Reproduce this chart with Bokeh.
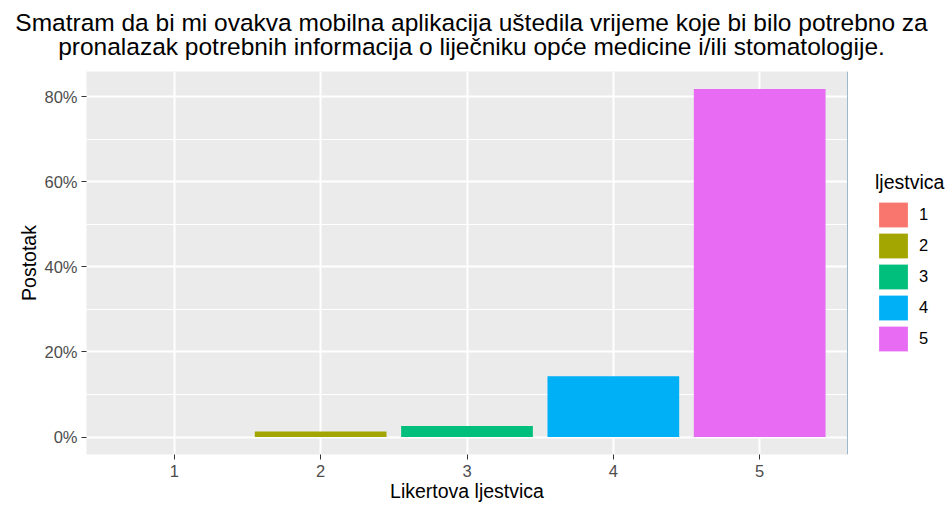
from bokeh.plotting import figure
from bokeh.layouts import row, column
from bokeh.models import (Range1d, FixedTicker, Legend, LegendItem, Label,
                          ColumnDataSource)
from bokeh.embed import file_html
from bokeh.resources import INLINE

# ---- data ----
categories = ["1", "2", "3", "4", "5"]
percent = [0.0, 1.3, 2.6, 14.3, 81.8]
colors = ["#F8766D", "#A3A500", "#00BF7D", "#00B0F6", "#E76BF3"]
y_ticks = [0, 20, 40, 60, 80]
y_tick_labels = ["0%", "20%", "40%", "60%", "80%"]
y_minor = [10, 30, 50, 70]
title_lines = [
    "Smatram da bi mi ovakva mobilna aplikacija uštedila vrijeme koje bi bilo potrebno za",
    "pronalazak potrebnih informacija o liječniku opće medicine i/ili stomatologije.",
]
x_title = "Likertova ljestvica"
y_title = "Postotak"
legend_title = "ljestvica"

FONT = "Liberation Sans"

xpos = [int(c) for c in categories]
ymax = max(percent)
source = ColumnDataSource(dict(x=xpos, top=percent, color=colors, cat=categories))

# ---------------- title strip ----------------
tf = figure(width=948, height=71, output_backend="svg", toolbar_location=None,
            title=None, x_range=Range1d(0, 1), y_range=Range1d(0, 1),
            min_border=0, x_axis_location=None, y_axis_location=None)
tf.outline_line_color = None
tf.grid.visible = False
tf.background_fill_color = "white"
tf.border_fill_color = "white"
for i, line in enumerate(title_lines):
    tf.add_layout(Label(x=471, y=49 - 24 * i, x_units="screen", y_units="screen",
                        text=line, text_align="center", text_baseline="middle",
                        text_font=FONT, text_font_size="24.5px",
                        text_color="black"))

# ---------------- main plot ----------------
p = figure(width=847, height=434, output_backend="svg", toolbar_location=None,
           title=None,
           x_range=Range1d(min(xpos) - 0.6, max(xpos) + 0.6),
           y_range=Range1d(-0.05 * ymax, 1.05 * ymax),
           min_border_left=86, min_border_right=0, min_border_top=0,
           min_border_bottom=51)

p.background_fill_color = "#EBEBEB"
p.border_fill_color = "white"
p.outline_line_color = None

p.vbar(x="x", top="top", bottom=0, width=0.9, fill_color="color",
       line_color=None, source=source)

# axes
p.xaxis.ticker = FixedTicker(ticks=xpos)
p.yaxis.ticker = FixedTicker(ticks=y_ticks, minor_ticks=y_minor)
p.yaxis.major_label_overrides = {t: l for t, l in zip(y_ticks, y_tick_labels)}
for ax in (p.xaxis[0], p.yaxis[0]):
    ax.axis_line_color = None
    ax.major_tick_line_color = "#333333"
    ax.major_tick_line_width = 1
    ax.major_tick_out = 5
    ax.major_tick_in = 0
    ax.minor_tick_line_color = None
    ax.major_label_text_font = FONT
    ax.major_label_text_font_size = "16.5px"
    ax.major_label_text_color = "#4D4D4D"
    ax.major_label_standoff = 4
    ax.axis_label_text_font = FONT
    ax.axis_label_text_font_size = "19.5px"
    ax.axis_label_text_font_style = "normal"
    ax.axis_label_text_color = "black"
p.yaxis.axis_label = y_title
p.yaxis.axis_label_standoff = 1
p.xaxis.axis_label = x_title
p.xaxis.axis_label_standoff = 0
p.xaxis.major_label_standoff = 5

# grid
p.xgrid.grid_line_color = "white"
p.xgrid.grid_line_width = 2
p.ygrid.grid_line_color = "white"
p.ygrid.grid_line_width = 2
p.ygrid.minor_grid_line_color = "white"
p.ygrid.minor_grid_line_width = 1

# ---------------- legend panel ----------------
lg = figure(width=101, height=434, output_backend="svg", toolbar_location=None,
            title=None, x_range=Range1d(100, 101), y_range=Range1d(0, 1),
            min_border=0, x_axis_location=None, y_axis_location=None)
lg.outline_line_color = None
lg.grid.visible = False
lg.background_fill_color = "white"
lg.border_fill_color = "white"
rl = lg.vbar(x="x", top="top", bottom=0, width=0.9, fill_color="color",
             line_color=None, source=source)
items = [LegendItem(label=c, renderers=[rl], index=i) for i, c in enumerate(categories)]
legend = Legend(items=items, location=(28, 100), title=legend_title,
                title_text_font=FONT, title_text_font_size="19.5px",
                title_text_font_style="normal", title_text_color="black",
                title_standoff=5,
                label_text_font=FONT, label_text_font_size="16.5px",
                label_text_color="black",
                glyph_width=36, glyph_height=31, spacing=0, label_standoff=8,
                padding=0, margin=0, border_line_color=None,
                background_fill_alpha=0)
lg.add_layout(legend)

layout = column(tf, row(p, lg))
open("out.html", "w").write(file_html(layout, INLINE))
